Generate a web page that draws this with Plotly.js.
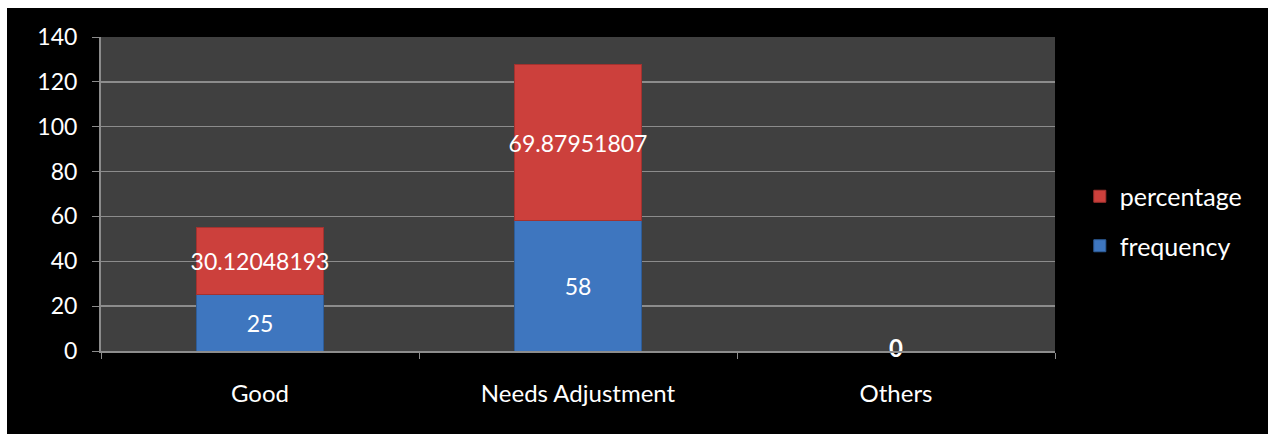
<!DOCTYPE html>
<html>
<head>
<meta charset="utf-8">
<script src="https://cdn.plot.ly/plotly-3.0.1.min.js"></script>
<style>
  html, body { margin: 0; padding: 0; background: #ffffff; width: 1268px; height: 434px; overflow: hidden; }
  #chart { position: absolute; left: 7px; top: 8px; width: 1261px; height: 426px; }
</style>
</head>
<body>
<div id="chart"></div>
<script>
// ---- data ----
const categories = ["Good", "Needs Adjustment", "Others"];
const frequency = [25, 58, 0];
const percentage = [30.12048193, 69.87951807, 0];
const yTicks = [0, 20, 40, 60, 80, 100, 120, 140];

const FONT = "Lato, 'Open Sans', sans-serif";
const labelText = arr => arr.map(v => (v === 0 ? "" : String(v)));

const zeroCats = [], zeroVals = [], zeroText = [];
categories.forEach((c, i) => {
  if (frequency[i] === 0 && percentage[i] === 0) {
    zeroCats.push(c); zeroVals.push(0); zeroText.push(String(frequency[i]));
  }
});

const traces = [
  {
    type: "bar", name: "frequency", x: categories, y: frequency,
    text: labelText(frequency), textposition: "inside", constraintext: "none",
    insidetextanchor: "middle", textangle: 0,
    textfont: { family: FONT, size: 23, color: "#ffffff" },
    marker: { color: "#3e76bf", line: { color: "#2e5d99", width: 1 } },
    legendgroup: "f", legendrank: 2, hoverinfo: "skip"
  },
  {
    type: "bar", name: "percentage", x: categories, y: percentage,
    text: labelText(percentage), textposition: "inside", constraintext: "none",
    insidetextanchor: "middle", textangle: 0,
    textfont: { family: FONT, size: 23, color: "#ffffff" },
    marker: { color: "#cc403c", line: { color: "#a3322f", width: 1 } },
    legendgroup: "p", legendrank: 1, hoverinfo: "skip"
  },
  {
    type: "scatter", mode: "text", x: zeroCats, y: zeroVals, text: zeroText,
    textposition: "middle center", cliponaxis: false, showlegend: false,
    textfont: { family: FONT, size: 24, color: "#ffffff", weight: "bold" }, hoverinfo: "skip"
  }
];

const layout = {
  width: 1261, height: 426,
  paper_bgcolor: "#000000", plot_bgcolor: "#404040",
  margin: { l: 94, r: 213, t: 29, b: 83 },
  barmode: "stack", bargap: 0.6,
  font: { family: FONT, color: "#ffffff", size: 22 },
  showlegend: true,
  legend: {
    x: 1.026, xanchor: "left", y: 0.414, yanchor: "middle",
    traceorder: "grouped", tracegroupgap: 14,
    font: { family: FONT, size: 25, color: "#ffffff" },
    bgcolor: "rgba(0,0,0,0)"
  },
  xaxis: {
    type: "category", tickson: "boundaries", ticks: "outside", ticklen: 6,
    tickcolor: "#8c8c8c", showline: true, linecolor: "#8c8c8c", linewidth: 2,
    showgrid: false, zeroline: false, ticklabelstandoff: 20,
    tickfont: { family: FONT, size: 24, color: "#ffffff" }
  },
  yaxis: {
    range: [0, 140], tickvals: yTicks, ticktext: yTicks.map(String),
    ticks: "outside", ticklen: 7, tickcolor: "#8c8c8c",
    showline: true, linecolor: "#8c8c8c", linewidth: 2,
    showgrid: true, gridcolor: "#8c8c8c", gridwidth: 1.5, zeroline: false,
    ticklabelstandoff: 10,
    tickfont: { family: FONT, size: 23, color: "#ffffff" }
  }
};

Plotly.newPlot("chart", traces, layout, { displayModeBar: false, staticPlot: true });
</script>
</body>
</html>
